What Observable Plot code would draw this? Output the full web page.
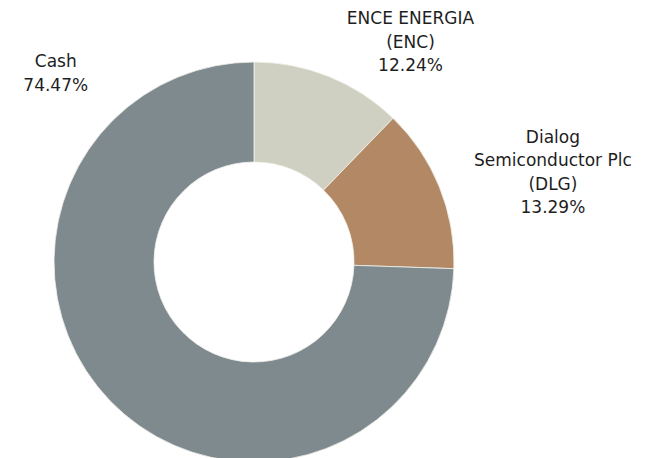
<!DOCTYPE html>
<html>
<head>
<meta charset="utf-8">
<script src="https://cdn.jsdelivr.net/npm/d3@7"></script>
<script src="https://cdn.jsdelivr.net/npm/@observablehq/plot@0.6"></script>
<style>
  html, body { margin: 0; padding: 0; background: #fff; }
  #chart { width: 646px; height: 458px; overflow: hidden; }
</style>
</head>
<body>
<div id="chart"></div>
<script>
// ---- data ----
const holdings = ["ENCE ENERGIA\n(ENC)", "Dialog\nSemiconductor Plc\n(DLG)", "Cash"];
const weights = [12.24, 13.29, 74.47];
const colors = ["#cfd0c2", "#b38865", "#7f8a8f"];
// label nudges (px) from each slice's outer mid-point
const labelDx = [81, 113, -55];
const labelDy = [-37, -17, -330];

// ---- layout ----
const W = 646, H = 458;
const xDomain = [-1.27, 1.96], yDomain = [-0.98, 1.31];
const pxPerUnit = W / (xDomain[1] - xDomain[0]);
const inner = 0.5; // inner radius relative to outer radius

const pie = d3.pie().sort(null).value(d => d.value)(
  holdings.map((name, i) => ({name, value: weights[i], color: colors[i], dx: labelDx[i], dy: labelDy[i]}))
);
const slices = pie.map(p => ({...p.data, startAngle: p.startAngle, endAngle: p.endAngle,
  mid: (p.startAngle + p.endAngle) / 2}));
slices.forEach(s => {
  s.lx = Math.sin(s.mid) + s.dx / pxPerUnit;
  s.ly = Math.cos(s.mid) - s.dy / pxPerUnit;
  s.label = s.name + "\n" + s.value.toFixed(2) + "%";
});

const donut = (index, scales) => {
  const x = scales.x, y = scales.y;
  const cx = x(0), cy = y(0);
  const R = x(1) - x(0);
  const arc = d3.arc().innerRadius(R * inner).outerRadius(R);
  const g = d3.create("svg:g").attr("transform", `translate(${cx},${cy})`);
  g.selectAll("path").data(slices).join("path")
    .attr("d", d => arc(d))
    .attr("fill", d => d.color)
    .attr("stroke", "#f2f2ee")
    .attr("stroke-width", 0.8);
  return g.node();
};

const chart = Plot.plot({
  width: W,
  height: H,
  margin: 0,
  x: {domain: xDomain, axis: null},
  y: {domain: yDomain, axis: null},
  marks: [
    donut,
    Plot.text(slices, {
      x: "lx", y: "ly", text: "label",
      textAnchor: "middle", lineAnchor: "middle",
      fontSize: 17, lineHeight: 1.37,
      fill: "#1e1e1e",
      fontFamily: "DejaVu Sans"
    })
  ]
});
document.getElementById("chart").appendChild(chart);
</script>
</body>
</html>
